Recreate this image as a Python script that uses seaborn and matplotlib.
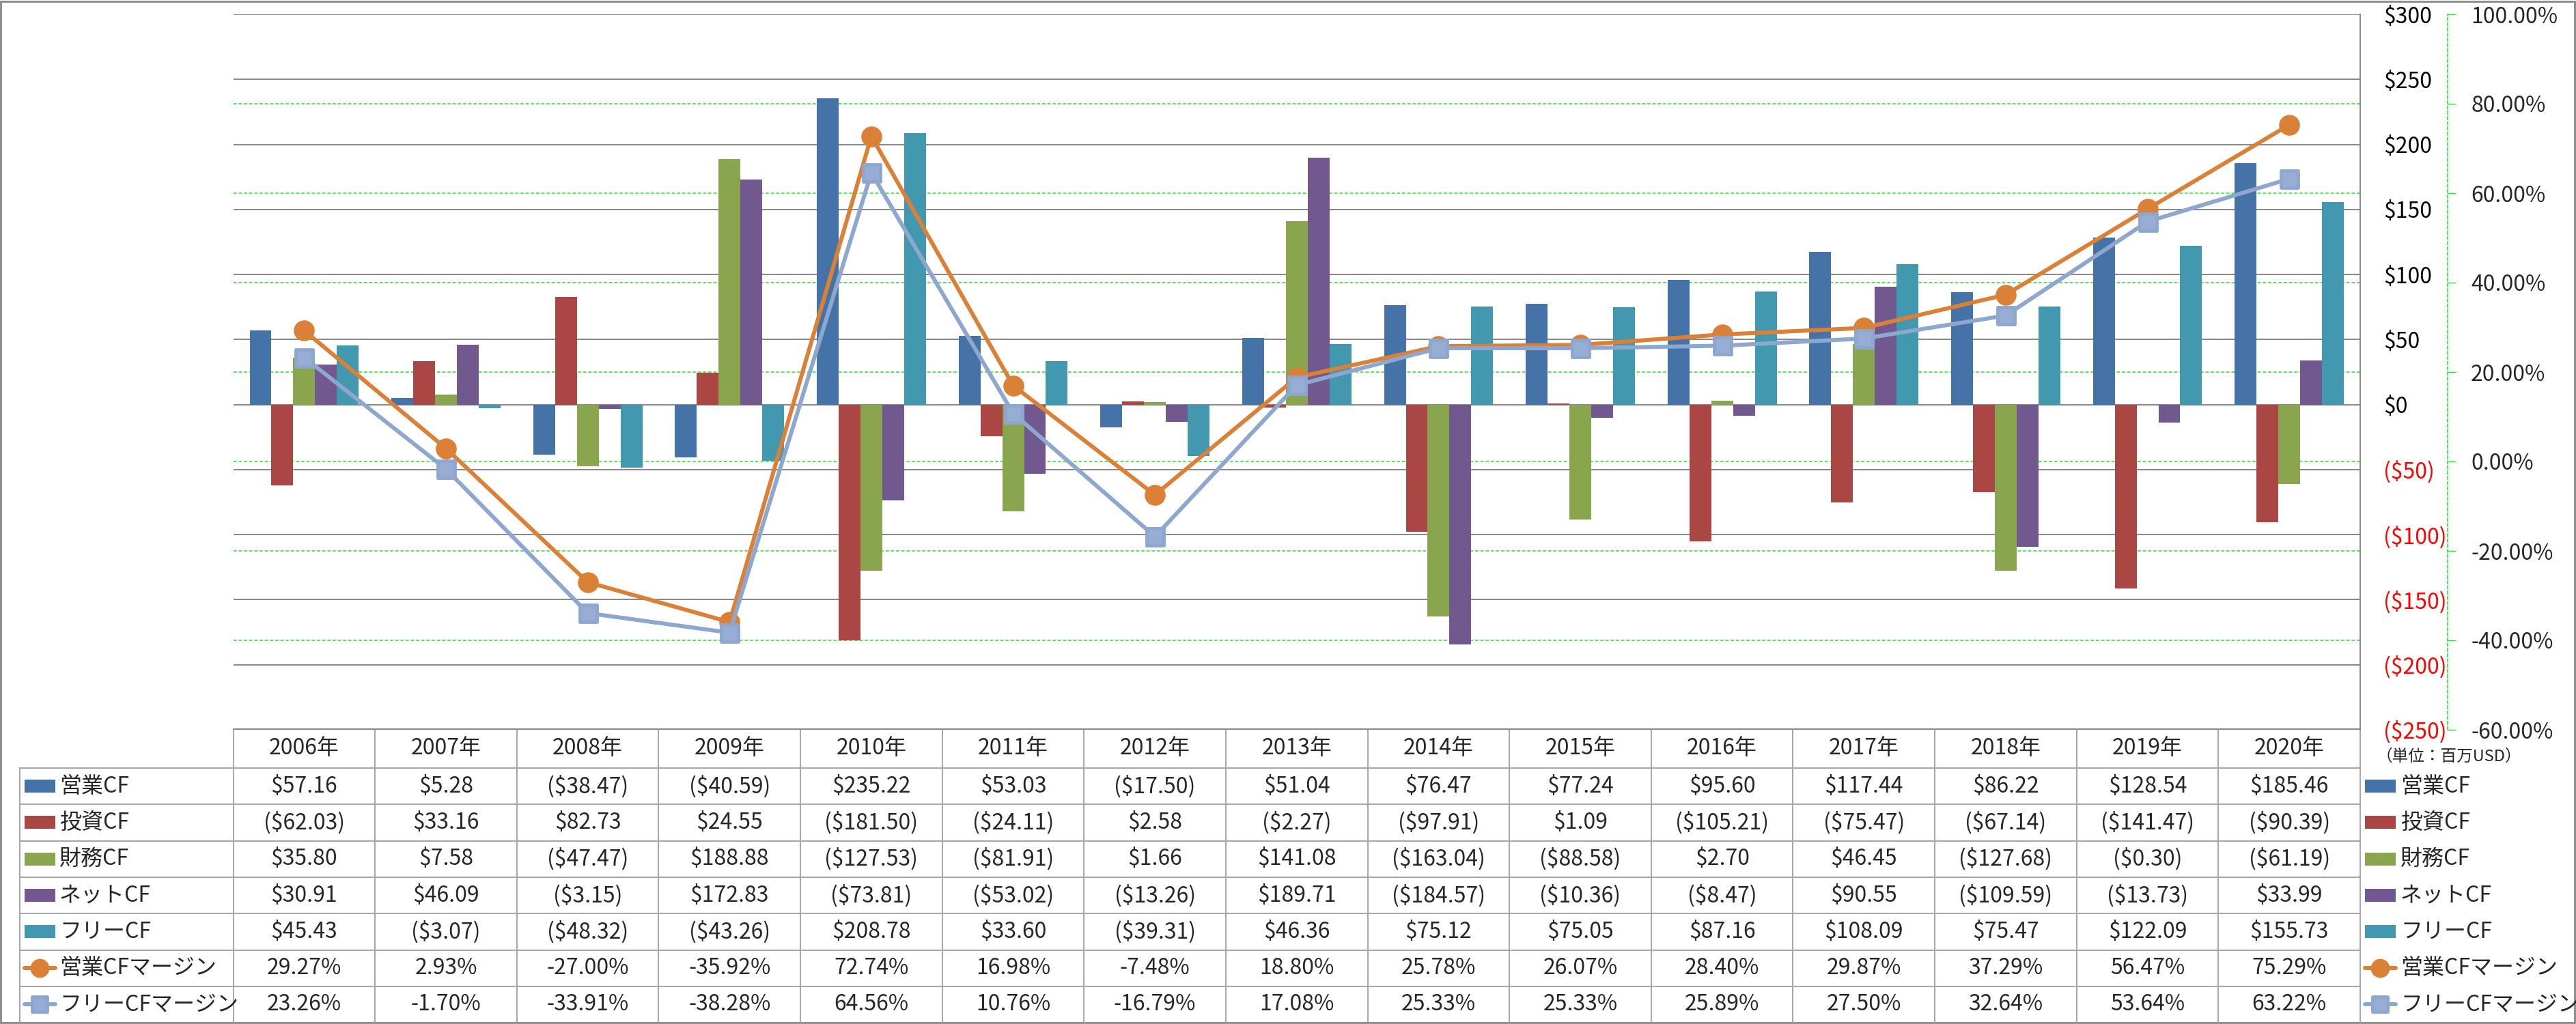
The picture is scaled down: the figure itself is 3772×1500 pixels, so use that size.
import numpy as np
import pandas as pd
import matplotlib
matplotlib.use("Agg")
import matplotlib.pyplot as plt
import matplotlib.transforms as mtransforms
from matplotlib.markers import MarkerStyle
from matplotlib.patches import Rectangle
import seaborn as sns

# -----------------------------------------------------------------------------
# 0. DATA (単位: 百万USD)
# -----------------------------------------------------------------------------
years = ["2006年", "2007年", "2008年", "2009年", "2010年", "2011年", "2012年",
         "2013年", "2014年", "2015年", "2016年", "2017年", "2018年", "2019年", "2020年"]

cf_names = ["営業CF", "投資CF", "財務CF", "ネットCF", "フリーCF"]
operating_cf = [57.16, 5.28, -38.47, -40.59, 235.22, 53.03, -17.50, 51.04,
                76.47, 77.24, 95.60, 117.44, 86.22, 128.54, 185.46]
investing_cf = [-62.03, 33.16, 82.73, 24.55, -181.50, -24.11, 2.58, -2.27,
                -97.91, 1.09, -105.21, -75.47, -67.14, -141.47, -90.39]
financing_cf = [35.80, 7.58, -47.47, 188.88, -127.53, -81.91, 1.66, 141.08,
                -163.04, -88.58, 2.70, 46.45, -127.68, -0.30, -61.19]
net_cf = [30.91, 46.09, -3.15, 172.83, -73.81, -53.02, -13.26, 189.71,
          -184.57, -10.36, -8.47, 90.55, -109.59, -13.73, 33.99]
free_cf = [45.43, -3.07, -48.32, -43.26, 208.78, 33.60, -39.31, 46.36,
           75.12, 75.05, 87.16, 108.09, 75.47, 122.09, 155.73]

margin_names = ["営業CFマージン", "フリーCFマージン"]
operating_margin = [29.27, 2.93, -27.00, -35.92, 72.74, 16.98, -7.48, 18.80,
                    25.78, 26.07, 28.40, 29.87, 37.29, 56.47, 75.29]
free_margin = [23.26, -1.70, -33.91, -38.28, 64.56, 10.76, -16.79, 17.08,
               25.33, 25.33, 25.89, 27.50, 32.64, 53.64, 63.22]

usd_ticks = list(range(-250, 301, 50))
pct_ticks = list(range(-60, 101, 20))
unit_note = "（単位：百万USD）"

# -----------------------------------------------------------------------------
# 1. STYLE
# -----------------------------------------------------------------------------
sns.set_theme(style="white")
plt.rcParams["font.family"] = ["Noto Sans CJK JP", "DejaVu Sans"]

cf_colors = ["#4572A7", "#AA4643", "#89A54E", "#71588F", "#4198AF"]
orange = "#DA8137"
light_blue = "#8EA7CE"
light_blue_face = "#97ADD3"
grid_gray = "#868686"
grid_green = "#22E022"
table_gray = "#A6A6A6"

W, H = 3773, 1500
PX0, PX1, PY0, PY1 = 341.6, 3456, 21, 1069      # plot area in pixels
HEAD_Y0, ROW_Y0, ROW_H = 1068, 1125, 53.3
PT = 0.72                                       # points per pixel at dpi 100
LW = 4.3
square = MarkerStyle("s", joinstyle="round")


def px_box(x0, y0, x1, y1):
    return [x0 / W, 1 - y1 / H, (x1 - x0) / W, (y1 - y0) / H]


def usd_fmt(v):
    return f"(${abs(v):,.2f})" if v < 0 else f"${v:,.2f}"


def usd_tick(v):
    return f"(${abs(v):.0f})" if v < 0 else f"${v:.0f}"


fig = plt.figure(figsize=(W / 100, H / 100), dpi=100)
fig.patch.set_facecolor("white")

# full-figure overlay for table / border, pixel coordinates
tab = fig.add_axes([0, 0, 1, 1], zorder=0)
tab.set_xlim(0, W)
tab.set_ylim(H, 0)
tab.set_axis_off()
tab.patch.set_alpha(0)

# -----------------------------------------------------------------------------
# 2. BARS (primary $ axis)
# -----------------------------------------------------------------------------
ax = fig.add_axes(px_box(PX0, PY0, PX1, PY1), zorder=1)
ax.patch.set_alpha(0)
ax2 = ax.twinx()
ax2.set_zorder(2)
ax2.patch.set_alpha(0)

cf_df = pd.DataFrame({"year": years, cf_names[0]: operating_cf, cf_names[1]: investing_cf,
                      cf_names[2]: financing_cf, cf_names[3]: net_cf, cf_names[4]: free_cf})
cf_long = cf_df.melt(id_vars="year", var_name="series", value_name="value")

sns.barplot(data=cf_long, x="year", y="value", hue="series", hue_order=cf_names,
            palette=cf_colors, saturation=1, width=5 / 6.5, gap=0, errorbar=None,
            linewidth=0, legend=False, ax=ax, zorder=2)

ax.set_xlim(-0.5, len(years) - 0.5)
ax.set_ylim(usd_ticks[0], usd_ticks[-1])
ax.set_xlabel("")
ax.set_ylabel("")
ax.tick_params(axis="x", bottom=False, labelbottom=False)
ax.yaxis.tick_right()
ax.set_yticks(usd_ticks, labels=[usd_tick(v) for v in usd_ticks])
ax.tick_params(axis="y", length=0, pad=(3490 - PX1) * PT, labelsize=23)
for lab, v in zip(ax.get_yticklabels(), usd_ticks):
    lab.set_color("red" if v < 0 else "black")
ax.set_axisbelow(True)
ax.yaxis.grid(True, color=grid_gray, lw=1.4)
for side in ["left", "top", "bottom"]:
    ax.spines[side].set_visible(False)
ax.spines["right"].set_color(grid_gray)
ax.spines["right"].set_linewidth(1.4)

# secondary gridlines (green dashed) drawn under the bars
blend = mtransforms.blended_transform_factory(ax.transAxes, ax2.transData)
for p in pct_ticks[1:-1]:
    ax.plot([0, 1], [p, p], transform=blend, color=grid_green, lw=1.1,
            ls=(0, (3, 2)), zorder=0.8)
ax.set_ylim(usd_ticks[0], usd_ticks[-1])

# -----------------------------------------------------------------------------
# 3. MARGIN LINES (secondary % axis)
# -----------------------------------------------------------------------------
xpos = np.arange(len(years))
sns.lineplot(x=xpos, y=operating_margin, ax=ax2, color=orange, lw=LW,
             marker="o", markersize=22, markeredgecolor=orange, markeredgewidth=0)
sns.lineplot(x=xpos, y=free_margin, ax=ax2, color=light_blue, lw=LW,
             marker=square, markersize=18, markerfacecolor=light_blue_face,
             markeredgecolor=light_blue, markeredgewidth=3.5)

ax2.set_xlim(-0.5, len(years) - 0.5)
ax2.set_ylim(pct_ticks[0], pct_ticks[-1])
ax2.set_ylabel("")
ax2.set_yticks(pct_ticks, labels=[f"{v:.2f}%" for v in pct_ticks])
ax2.tick_params(axis="y", direction="out", length=12 * PT, width=1, color=grid_green,
                pad=(3618 - 3596) * PT, labelsize=23)
for lab, v in zip(ax2.get_yticklabels(), pct_ticks):
    lab.set_color("red" if v < 0 else "black")
for side in ["left", "top", "bottom"]:
    ax2.spines[side].set_visible(False)
ax2.spines["right"].set_position(("outward", (3584 - PX1) * PT))
ax2.spines["right"].set_color(grid_green)
ax2.spines["right"].set_linestyle((0, (3, 2)))
ax2.spines["right"].set_linewidth(1.1)
ax2.grid(False)

# -----------------------------------------------------------------------------
# 4. DATA TABLE
# -----------------------------------------------------------------------------
row_names = cf_names + margin_names
row_values = [operating_cf, investing_cf, financing_cf, net_cf, free_cf,
              operating_margin, free_margin]
row_texts = [[usd_fmt(v) for v in vals] for vals in row_values[:5]] + \
            [[f"{v:.2f}%" for v in vals] for vals in row_values[5:]]
key_colors = cf_colors + [orange, light_blue]
key_markers = [None] * 5 + ["o", square]

cw = (PX1 - PX0) / len(years)
row_edges = [ROW_Y0 + k * ROW_H for k in range(len(row_names) + 1)]
tab_bottom = row_edges[-1]

# grid lines
tab.plot([PX0, PX1], [HEAD_Y0, HEAD_Y0], color=grid_gray, lw=1.4)
for i in range(len(years) + 1):
    x = PX0 + i * cw
    tab.plot([x, x], [HEAD_Y0, tab_bottom], color=table_gray, lw=1.4)
tab.plot([29, 29], [ROW_Y0, tab_bottom], color=table_gray, lw=1.4)
for y in row_edges[:-1]:
    tab.plot([29, PX1], [y, y], color=table_gray, lw=1.4)

# header
for i, yr in enumerate(years):
    tab.text(PX0 + (i + 0.5) * cw, (HEAD_Y0 + ROW_Y0) / 2, yr, ha="center",
             va="center", fontsize=23)


def draw_key(x0, x1, yc, color, marker):
    if marker is None:
        tab.add_patch(Rectangle((x0, yc - 9.5), x1 - x0, 19, color=color, lw=0))
    else:
        tab.plot([x0, x1], [yc, yc], color=color, lw=LW, solid_capstyle="round")
        if marker == "o":
            tab.plot([(x0 + x1) / 2], [yc], marker=marker, color=color,
                     markersize=20, markeredgewidth=0)
        else:
            tab.plot([(x0 + x1) / 2], [yc], marker=marker, markersize=16,
                     markerfacecolor=light_blue_face, markeredgecolor=color,
                     markeredgewidth=3.5)


for r, (name, texts) in enumerate(zip(row_names, row_texts)):
    yc = row_edges[r] + ROW_H / 2
    draw_key(36, 81, yc, key_colors[r], key_markers[r])
    tab.text(87, yc, name, ha="left", va="center", fontsize=23)
    for i, t in enumerate(texts):
        tab.text(PX0 + (i + 0.5) * cw, yc, t, ha="center", va="center", fontsize=23)
    # legend on the right side
    draw_key(3463, 3508, yc, key_colors[r], key_markers[r])
    tab.text(3515, yc, name, ha="left", va="center", fontsize=23)

tab.text(3480, 1108, unit_note, ha="left", va="center", fontsize=17)

# outer border
tab.add_patch(Rectangle((1.5, 1.5), W - 4, H - 3.5, fill=False, ec=grid_gray, lw=2))

plt.savefig("out.png", dpi=100)
